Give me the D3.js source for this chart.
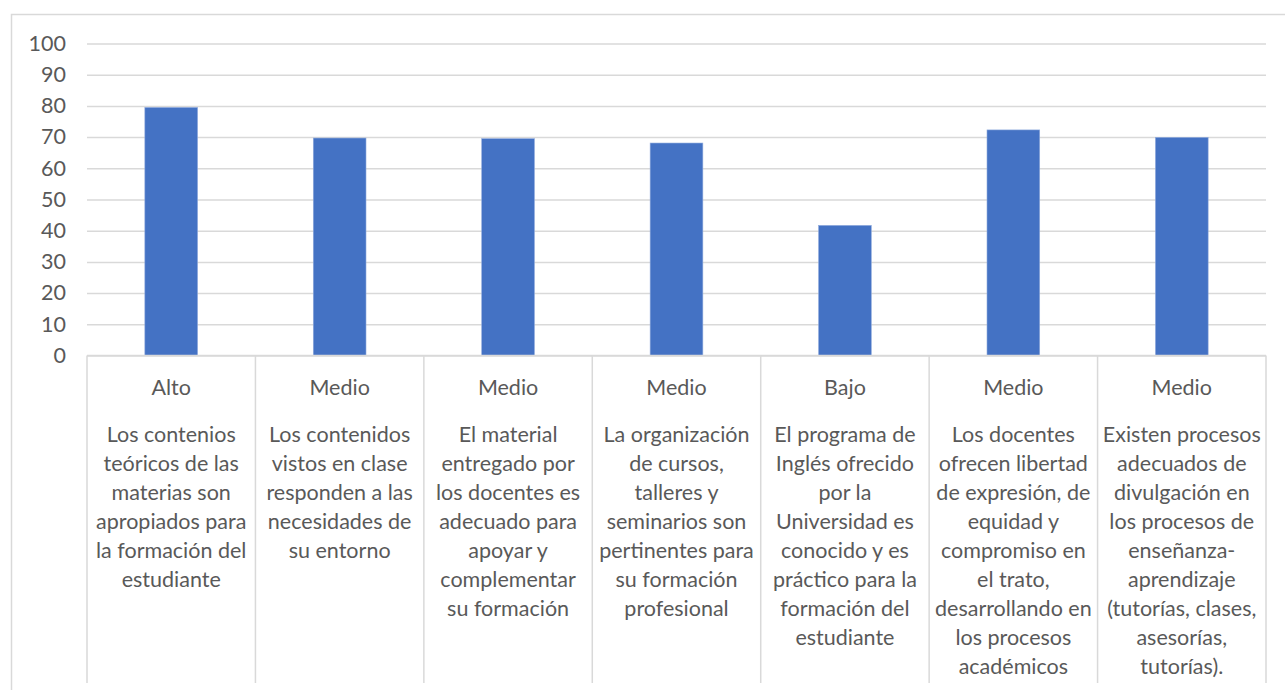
<!DOCTYPE html>
<html lang="es">

<head>
  <meta charset="UTF-8">
  <title>Niveles</title>
  <style>
    html,
    body {
      margin: 0;
      background: #fff;
      overflow: hidden;
    }

    text {
      font-family: Lato, "Noto Sans", sans-serif;
      fill: #595959;
    }
  </style>
</head>

<body>
  <div id="chart"></div>

  <script src="https://cdn.jsdelivr.net/npm/d3@7"></script>
  <script>
    // datos
    const levels = ['Alto', 'Medio', 'Medio', 'Medio', 'Bajo', 'Medio', 'Medio']
    const values = [79.5, 69.7, 69.5, 68.1, 41.7, 72.3, 69.9]
    const yTicks = [0, 10, 20, 30, 40, 50, 60, 70, 80, 90, 100]
    const descriptions = [
      ['Los contenios', 'teóricos de las', 'materias son', 'apropiados para', 'la formación del', 'estudiante'],
      ['Los contenidos', 'vistos en clase', 'responden a las', 'necesidades de', 'su entorno'],
      ['El material', 'entregado por', 'los docentes es', 'adecuado para', 'apoyar y', 'complementar', 'su formación'],
      ['La organización', 'de cursos,', 'talleres y', 'seminarios son', 'pertinentes para', 'su formación', 'profesional'],
      ['El programa de', 'Inglés ofrecido', 'por la', 'Universidad es', 'conocido y es', 'práctico para la', 'formación del', 'estudiante'],
      ['Los docentes', 'ofrecen libertad', 'de expresión, de', 'equidad y', 'compromiso en', 'el trato,', 'desarrollando en', 'los procesos', 'académicos'],
      ['Existen procesos', 'adecuados de', 'divulgación en', 'los procesos de', 'enseñanza-', 'aprendizaje', '(tutorías, clases,', 'asesorías,', 'tutorías).']
    ]

    const width = 1285
    const height = 690
    const plot = { left: 87, right: 1266, top: 43.5, bottom: 355.5 }
    const gridColor = '#d9d9d9'
    const barColor = '#4472c4'
    const fontSize = 21.5

    const idx = levels.map((d, i) => i)

    const x = d3.scaleBand()
      .domain(idx)
      .range([plot.left, plot.right])
      .paddingInner(0.687)
      .paddingOuter(0.687 / 2)

    const xCell = d3.scaleBand()
      .domain(idx)
      .range([plot.left, plot.right])

    const y = d3.scaleLinear()
      .domain([0, 100])
      .range([plot.bottom, plot.top])

    const svg = d3.select('#chart').append('svg')
      .attr('width', width)
      .attr('height', height)

    // marco exterior del grafico
    svg.append('rect')
      .attr('x', 11.5)
      .attr('y', 14.5)
      .attr('width', 1300)
      .attr('height', 700)
      .attr('fill', 'none')
      .attr('stroke', gridColor)
      .attr('stroke-width', 1.5)

    // eje y con lineas de cuadricula
    const yAxis = d3.axisLeft(y)
      .tickValues(yTicks)
      .tickSize(-(plot.right - plot.left))
      .tickPadding(21)

    svg.append('g')
      .attr('transform', `translate(${plot.left},0)`)
      .call(yAxis)
      .call(g => g.select('.domain').remove())
      .call(g => g.selectAll('.tick line')
        .attr('stroke', gridColor)
        .attr('stroke-width', 1.5))
      .call(g => g.selectAll('.tick text')
        .attr('font-size', fontSize)
        .style('font-family', 'Lato, sans-serif')
        .attr('fill', '#595959'))

    // barras
    svg.append('g')
      .selectAll('rect')
      .data(values)
      .join('rect')
      .attr('x', (d, i) => x(i))
      .attr('width', x.bandwidth())
      .attr('y', d => y(d))
      .attr('height', d => y(0) - y(d))
      .attr('fill', barColor)
      .attr('stroke', '#8faadc')
      .attr('stroke-width', 0.6)

    // celdas de categorias
    const cellBottom = 683
    const bounds = idx.map(i => xCell(i)).concat([plot.right])

    svg.append('line')
      .attr('x1', plot.left)
      .attr('x2', plot.right)
      .attr('y1', plot.bottom)
      .attr('y2', plot.bottom)
      .attr('stroke', gridColor)
      .attr('stroke-width', 1.5)

    svg.append('g')
      .selectAll('line')
      .data(bounds)
      .join('line')
      .attr('x1', d => d)
      .attr('x2', d => d)
      .attr('y1', plot.bottom)
      .attr('y2', cellBottom)
      .attr('stroke', gridColor)
      .attr('stroke-width', 1.5)

    const cells = svg.append('g')
      .selectAll('g')
      .data(idx)
      .join('g')
      .attr('transform', i => `translate(${xCell(i) + xCell.bandwidth() / 2},0)`)

    cells.append('text')
      .attr('y', 395)
      .attr('text-anchor', 'middle')
      .attr('font-size', fontSize)
      .text(i => levels[i])

    cells.append('text')
      .attr('text-anchor', 'middle')
      .attr('font-size', fontSize)
      .selectAll('tspan')
      .data(i => descriptions[i])
      .join('tspan')
      .attr('x', 0)
      .attr('y', (d, j) => 442 + j * 29)
      .text(d => d)
  </script>
</body>

</html>
